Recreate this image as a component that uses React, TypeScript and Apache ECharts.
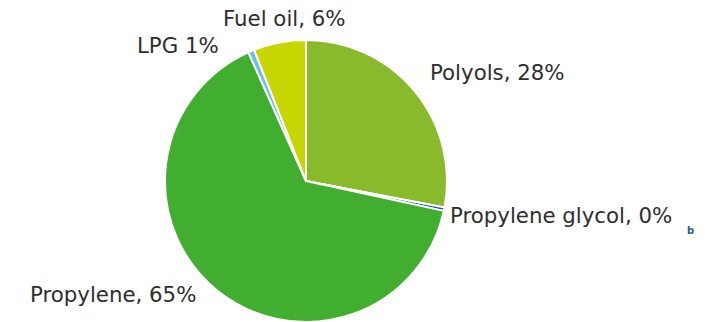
import React, { useEffect, useRef } from "react";
import * as echarts from "echarts";

const categories = ["Polyols", "Propylene glycol", "Propylene", "LPG", "Fuel oil"];
const values = [28, 0.4, 64.9, 0.7, 6];
const labelTexts = ["Polyols, 28%", "Propylene glycol, 0%", "Propylene, 65%", "LPG 1%", "Fuel oil, 6%"];
const colors = ["#89ba2b", "#1f4f9e", "#42ae2f", "#6cbde9", "#c8d600"];
const labelPos: [number, number][] = [
  [430, 72],
  [450, 215],
  [30, 294],
  [137, 45],
  [223, 18],
];

export default function App() {
  const ref = useRef<HTMLDivElement>(null);
  useEffect(() => {
    document.body.style.margin = "0";
    const chart = echarts.init(ref.current!, undefined, { renderer: "svg" });
    chart.setOption({
      animation: false,
      backgroundColor: "#ffffff",
      graphic: [
        {
          type: "text",
          left: 687,
          top: 225,
          style: { text: "b", fill: "#2a5d8a", font: "bold 10px 'DejaVu Sans'" },
        },
      ],
      series: [
        {
          type: "pie",
          center: [306, 181],
          radius: 141,
          startAngle: 90,
          clockwise: true,
          avoidLabelOverlap: false,
          emphasis: { disabled: true },
          itemStyle: { borderColor: "#ffffff", borderWidth: 2 },
          label: {
            show: true,
            position: "outside",
            fontFamily: "'DejaVu Sans', Verdana, sans-serif",
            fontSize: 21.3,
            color: "#2e2e2e",
            formatter: (p: any) => labelTexts[p.dataIndex],
          },
          labelLine: { show: false },
          labelLayout: (p: any) => ({
            x: labelPos[p.dataIndex][0],
            y: labelPos[p.dataIndex][1],
            align: "left",
            verticalAlign: "middle",
          }),
          data: categories.map((c, i) => ({
            name: c,
            value: values[i],
            itemStyle: { color: colors[i] },
          })),
        },
      ],
    });
    return () => chart.dispose();
  }, []);
  return <div ref={ref} style={{ width: 705, height: 322 }} />;
}
